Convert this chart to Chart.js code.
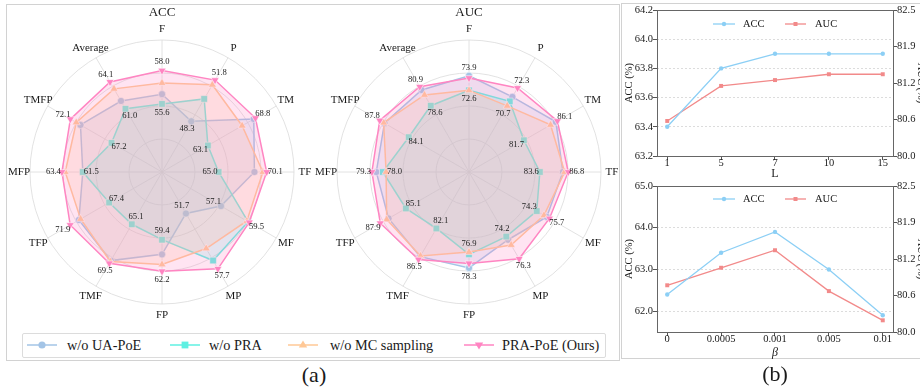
<!DOCTYPE html>
<html><head><meta charset="utf-8">
<script src="https://cdn.jsdelivr.net/npm/chart.js@4.4.0/dist/chart.umd.min.js"></script>
<style>
html,body{margin:0;padding:0;background:#fff;}
body{width:920px;height:387px;overflow:hidden;position:relative;font-family:"Liberation Serif","Times New Roman",serif;color:#1a1a1a;}
.abs{position:absolute;}
canvas{position:absolute;}
#panelA{left:6px;top:4px;width:614px;height:357px;border:1px solid #d2d2d2;box-sizing:border-box;}
#panelB{left:621px;top:3px;width:320px;height:356px;border:1px solid #d2d2d2;box-sizing:border-box;}
#legBox{left:22px;top:333px;width:584px;height:25px;border:1px solid #dcdcdc;box-sizing:border-box;border-radius:2px;background:#fff;}
.legTxt{position:absolute;top:333px;height:25px;line-height:25px;font-size:14.3px;white-space:nowrap;}
.legSym{position:absolute;top:339px;}
.cap{position:absolute;font-size:22px;line-height:26px;transform:translate(-50%,-50%);white-space:nowrap;}
</style>
</head><body>
<div id="panelA" class="abs"></div>
<div id="panelB" class="abs"></div>
<canvas id="accRadar" width="305" height="325" style="left:8px;top:5px;"></canvas>
<canvas id="aucRadar" width="305" height="325" style="left:315px;top:5px;"></canvas>
<div id="legBox" class="abs"></div>
<div id="legend"></div>
<canvas id="lineL" width="302" height="183" style="left:622px;top:0px;"></canvas>
<canvas id="lineB" width="302" height="183" style="left:622px;top:176px;"></canvas>
<div class="cap" style="left:314px;top:375px;">(a)</div>
<div class="cap" style="left:775px;top:374px;">(b)</div>
<script>
// ---------------- data ----------------
const categories = ['F','P','TM','TF','MF','MP','FP','TMF','TFP','MFP','TMFP','Average'];
const seriesNames = ['w/o UA-PoE','w/o PRA','w/o MC sampling','PRA-PoE (Ours)'];

// per-spoke value range of the ACC radar (each spoke is scaled on its own)
const accAxisMin = [50.7,44.0,57.6,59.0,52.1,47.2,53.4,59.2,61.3,54.3,61.2,53.7];
const accAxisMax = [60.2,53.7,71.3,73.0,61.8,59.6,65.1,72.1,74.5,66.3,74.8,66.9];
const accUaPoe = [56.3,48.3,68.6,68.8,57.1,51.7,60.7,69.2,70.9,61.5,70.9,61.9];
const accPra   = [55.6,50.2,63.1,65.0,59.4,56.8,59.4,65.1,67.4,61.5,67.2,61.0];
const accMc    = [57.1,51.4,67.2,69.7,59.3,55.5,61.6,69.3,70.7,63.1,71.4,63.3];
const accOurs  = [58.0,51.8,68.8,70.1,59.5,57.7,62.2,69.5,71.9,63.4,72.1,64.1];

// per-spoke value range of the AUC radar
const aucAxisMin = [65.3,64.8,74.5,75.6,66.9,68.1,69.8,74.1,78.2,70.4,76.4,70.6];
const aucAxisMax = [77.1,75.0,89.5,90.5,79.4,78.9,81.5,90.3,90.7,82.5,91.0,84.4];
const aucUaPoe = [73.9,71.5,85.9,86.2,75.4,74.5,78.3,86.1,87.0,78.9,87.2,80.5];
const aucPra   = [72.6,71.1,81.7,83.6,74.3,74.2,77.1,82.1,85.1,78.3,84.1,78.6];
const aucMc    = [72.6,70.7,85.2,86.4,75.1,75.0,76.9,86.0,87.2,78.0,87.3,79.9];
const aucOurs  = [73.7,72.3,86.1,86.8,75.7,76.3,77.9,86.5,87.9,79.3,87.8,80.9];

// sensitivity curves
const lLabels = ['1','5','7','10','15'];
const lAcc = [63.4,63.8,63.9,63.9,63.9];
const lAuc = [80.6,81.2,81.3,81.4,81.4];
const betaLabels = ['0','0.0005','0.001','0.005','0.01'];
const betaAcc = [62.4,63.4,63.9,63.0,61.9];
const betaAuc = [80.8,81.1,81.4,80.7,80.2];

const lAccTicks = [63.2,63.4,63.6,63.8,64.0,64.2];
const lAccTickLabels = ['63.2','63.4','63.6','63.8','64.0','64.2'];
const betaAccTicks = [62,63,64,65];
const betaAccTickLabels = ['62.0','63.0','64.0','65.0'];
const aucTicks = [80,80.625,81.25,81.875,82.5];
const aucTickLabels = ['80.0','80.6','81.2','81.9','82.5'];

// ---------------- styles ----------------
const FONT = '"Liberation Serif", "Times New Roman", serif';
const colBlue = '#a3c4e6', colTeal = '#5ff0e2', colOrange = '#ffc896', colPink = '#ff85c2';
const fills = ['rgba(163,196,230,0.22)','rgba(95,240,226,0.22)','rgba(255,200,150,0.22)','rgba(255,133,194,0.22)'];
const cols = [colBlue, colTeal, colOrange, colPink];
const pStyles = ['circle','rect','triangle','triangle'];
const pRadius = [3.6,4.7,4.6,4.6];
const pRot = [0,0,0,180];

function norm(vals, lo, hi){ return vals.map((v,i)=>(v-lo[i])/(hi[i]-lo[i])); }

function radarPlugin(title, raw){
  return {
    id:'radarText',
    afterDraw(chart){
      const ctx = chart.ctx, s = chart.scales.r;
      ctx.save();
      ctx.fillStyle = '#1a1a1a';
      ctx.textAlign = 'center'; ctx.textBaseline = 'middle';
      ctx.font = '13px ' + FONT;
      ctx.fillText(title, s.xCenter, 7.5);
      ctx.font = '11px ' + FONT;
      categories.forEach((c,i)=>{
        const p = s.getPointPosition(i, s.drawingArea + 11);
        ctx.fillText(c, p.x, p.y);
      });
      ctx.font = '8.6px ' + FONT;
      ctx.fillStyle = '#222';
      const ds = chart.data.datasets;
      categories.forEach((c,i)=>{
        let maxK = 0, minK = 0;
        raw.forEach((arr,k)=>{
          if (arr[i] > raw[maxK][i]) maxK = k;
          if (arr[i] < raw[minK][i]) minK = k;
        });
        [[maxK,1],[minK,-1]].forEach(([k,dir])=>{
          const d = s.getDistanceFromCenterForValue(ds[k].data[i]) + dir*8.5;
          const p = s.getPointPosition(i, d);
          ctx.fillText(raw[k][i].toFixed(1), p.x, p.y);
        });
      });
      ctx.restore();
    }
  };
}

function makeRadar(id, title, raw, lo, hi){
  const datasets = raw.map((arr,k)=>({
    label: seriesNames[k],
    data: norm(arr, lo, hi),
    borderColor: cols[k],
    backgroundColor: fills[k],
    fill: true,
    borderWidth: 1.5,
    pointStyle: pStyles[k],
    pointRadius: pRadius[k],
    pointRotation: pRot[k],
    pointBackgroundColor: cols[k],
    pointBorderColor: 'rgba(255,255,255,0.8)',
    pointBorderWidth: 0.7,
    order: 4 - k
  }));
  new Chart(document.getElementById(id), {
    type: 'radar',
    data: { labels: categories, datasets },
    options: {
      responsive: false, animation: false, devicePixelRatio: 1,
      layout: { padding: { left: 22, top: 35, right: 19, bottom: 26 } },
      elements: { line: { tension: 0 } },
      plugins: { legend: { display: false }, tooltip: { enabled: false } },
      scales: {
        r: {
          min: 0, max: 1,
          ticks: { display: false, stepSize: 0.25 },
          grid: { color: '#dadada', lineWidth: 0.8, circular: true },
          angleLines: { color: '#dadada', lineWidth: 0.8 },
          pointLabels: { display: false }
        }
      }
    },
    plugins: [radarPlugin(title, raw)]
  });
}

makeRadar('accRadar', 'ACC', [accUaPoe, accPra, accMc, accOurs], accAxisMin, accAxisMax);
makeRadar('aucRadar', 'AUC', [aucUaPoe, aucPra, aucMc, aucOurs], aucAxisMin, aucAxisMax);

// --------- legend for radars (HTML) ----------
(function(){
  const leg = document.getElementById('legend');
  const symX = [27, 170, 288, 464];
  const txtX = [67, 209, 330, 502];
  const shapes = [
    c=>`<circle cx="15" cy="6" r="3.6" fill="${c}"/>`,
    c=>`<rect x="11.6" y="2.6" width="6.8" height="6.8" fill="${c}"/>`,
    c=>`<polygon points="15,1.4 19.2,8.6 10.8,8.6" fill="${c}"/>`,
    c=>`<polygon points="15,10.6 19.2,3.4 10.8,3.4" fill="${c}"/>`
  ];
  let html = '';
  seriesNames.forEach((n,k)=>{
    html += `<svg class="legSym" style="left:${symX[k]}px" width="30" height="12"><line x1="0" y1="6" x2="30" y2="6" stroke="${cols[k]}" stroke-width="1.5"/>${shapes[k](cols[k])}</svg>`;
    html += `<div class="legTxt" style="left:${txtX[k]}px">${n}</div>`;
  });
  leg.innerHTML = html;
})();

// ---------------- line charts ----------------
const accLineCol = '#8ccff5', aucLineCol = '#f28a8a';

function linePlugin(legendY){
  return {
    id:'frameLegend',
    afterDraw(chart){
      const ctx = chart.ctx, a = chart.chartArea;
      ctx.save();
      ctx.strokeStyle = '#666'; ctx.lineWidth = 1;
      ctx.strokeRect(Math.round(a.left)+0.5, Math.round(a.top)+0.5, Math.round(a.right-a.left), Math.round(a.bottom-a.top));
      const items = [
        {x0:91, x1:113, tx:121, col:accLineCol, txt:'ACC', shape:'circle'},
        {x0:163, x1:184, tx:193, col:aucLineCol, txt:'AUC', shape:'rect'}
      ];
      ctx.font = '10.5px ' + FONT; ctx.textBaseline = 'middle'; ctx.textAlign = 'left';
      items.forEach(it=>{
        ctx.strokeStyle = it.col; ctx.lineWidth = 1.3;
        ctx.beginPath(); ctx.moveTo(it.x0, legendY); ctx.lineTo(it.x1, legendY); ctx.stroke();
        ctx.fillStyle = it.col;
        const cx = (it.x0+it.x1)/2;
        if (it.shape==='circle'){ ctx.beginPath(); ctx.arc(cx, legendY, 2.2, 0, Math.PI*2); ctx.fill(); }
        else ctx.fillRect(cx-2, legendY-2, 4, 4);
        ctx.fillStyle = '#1a1a1a';
        ctx.fillText(it.txt, it.tx, legendY+0.5);
      });
      ctx.restore();
    }
  };
}

function makeLine(id, xLabels, acc, auc, yMin, yMax, yTicks, yTickLabels, xTitle, xTitleFont, xTitlePad, legendY){
  const tickFont = { family: FONT, size: 10.5 };
  new Chart(document.getElementById(id), {
    type: 'line',
    data: {
      datasets: [
        { label:'ACC', data: acc.map((v,i)=>({x:i,y:v})), yAxisID:'y', borderColor: accLineCol, backgroundColor: accLineCol,
          borderWidth: 1.3, pointStyle:'circle', pointRadius: 2.2, pointBorderWidth: 0, pointBackgroundColor: accLineCol, tension: 0 },
        { label:'AUC', data: auc.map((v,i)=>({x:i,y:v})), yAxisID:'y1', borderColor: aucLineCol, backgroundColor: aucLineCol,
          borderWidth: 1.3, pointStyle:'rect', pointRadius: 2.8, pointBorderWidth: 0, pointBackgroundColor: aucLineCol, tension: 0 }
      ]
    },
    options: {
      responsive: false, animation: false, devicePixelRatio: 1,
      layout: { padding: { left: 0, right: 0, top: 10, bottom: 0 } },
      plugins: { legend: { display: false }, tooltip: { enabled: false } },
      scales: {
        x: {
          type: 'linear', min: -0.19, max: 4.19,
          afterBuildTicks: s => { s.ticks = xLabels.map((_,i)=>({value:i})); },
          afterFit: s => { s.height = 27; },
          ticks: { callback: v => xLabels[v], font: tickFont, color: '#1a1a1a', padding: -3, maxRotation: 0, autoSkip: false },
          grid: { drawOnChartArea: false, drawTicks: true, tickLength: 4, tickColor: '#555', color: '#555' },
          border: { display: false },
          title: { display: true, text: xTitle, font: xTitleFont, color: '#1a1a1a', padding: { top: 0, bottom: xTitlePad } }
        },
        y: {
          position: 'left', min: yMin, max: yMax,
          afterBuildTicks: s => { s.ticks = yTicks.map(v=>({value:v})); },
          afterFit: s => { s.width = 35; },
          ticks: { callback: (v,i) => yTickLabels[i], font: tickFont, color: '#1a1a1a', padding: 0, autoSkip: false },
          grid: { color: '#d4d4d4', lineWidth: 0.8, drawTicks: true, tickLength: 4, tickColor: '#555', tickWidth: 1 },
          border: { display: false, dash: [2,2] },
          title: { display: true, text: 'ACC (%)', font: { family: FONT, size: 10.5, lineHeight: 1 }, color: '#1a1a1a', padding: { top: 2.4, bottom: 0 } }
        },
        y1: {
          position: 'right', min: 80, max: 82.5,
          afterBuildTicks: s => { s.ticks = aucTicks.map(v=>({value:v})); },
          afterFit: s => { s.width = 31; },
          ticks: { callback: (v,i) => aucTickLabels[i], font: tickFont, color: '#1a1a1a', padding: 0, autoSkip: false },
          grid: { drawOnChartArea: false, drawTicks: true, tickLength: 4, tickColor: '#555', color: '#555' },
          border: { display: false },
          title: { display: true, text: 'AUC (%)', font: { family: FONT, size: 10.5, lineHeight: 1 }, color: '#1a1a1a', padding: { top: -1.5, bottom: 0 } }
        }
      }
    },
    plugins: [linePlugin(legendY)]
  });
}

makeLine('lineL', lLabels, lAcc, lAuc, 63.2, 64.2, lAccTicks, lAccTickLabels, 'L',
  { family: FONT, size: 12, lineHeight: 1 }, 3.3, 24);
makeLine('lineB', betaLabels, betaAcc, betaAuc, 61.5, 65.0, betaAccTicks, betaAccTickLabels, 'β',
  { family: FONT, size: 12, style: 'italic', lineHeight: 1 }, 0.5, 23);
</script>
</body></html>
